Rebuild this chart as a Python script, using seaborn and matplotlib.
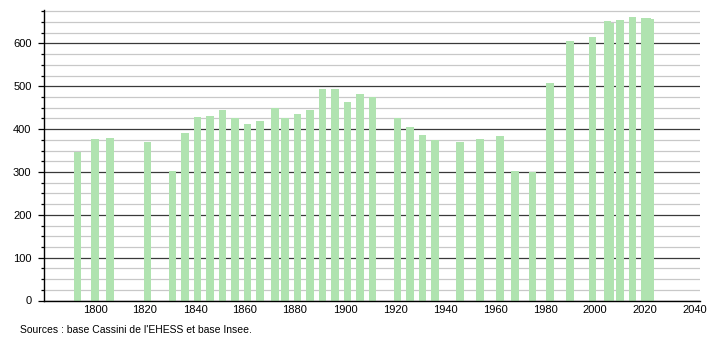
import matplotlib
matplotlib.use("Agg")
import matplotlib.pyplot as plt
from matplotlib.ticker import MultipleLocator
import seaborn as sns
import pandas as pd

years = [1793, 1800, 1806, 1821, 1831, 1836, 1841, 1846, 1851, 1856, 1861, 1866,
         1872, 1876, 1881, 1886, 1891, 1896, 1901, 1906, 1911, 1921, 1926, 1931,
         1936, 1946, 1954, 1962, 1968, 1975, 1982, 1990, 1999, 2005, 2006, 2010,
         2015, 2020, 2021, 2022]
population = [347, 376, 380, 370, 302, 391, 429, 431, 444, 426, 412, 419,
              450, 426, 435, 444, 493, 493, 463, 483, 475, 427, 405, 386,
              374, 370, 376, 384, 302, 299, 508, 605, 615, 652, 648, 655,
              661, 659, 659, 657]
x_ticks = [1800, 1820, 1840, 1860, 1880, 1900, 1920, 1940, 1960, 1980, 2000, 2020, 2040]
y_ticks = [0, 100, 200, 300, 400, 500, 600]
source_text = "Sources : base Cassini de l'EHESS et base Insee."

plt.rcParams['font.family'] = ['Liberation Sans', 'DejaVu Sans']

df = pd.DataFrame({"year": years, "population": population})

fig = plt.figure(figsize=(7.1, 3.4), dpi=100)
ax = fig.add_axes([44 / 710, 39.5 / 340, 656 / 710, 290.5 / 340])

sns.barplot(data=df, x="year", y="population", native_scale=True, width=3.05,
            color="#b0e3b0", saturation=1, errorbar=None, ax=ax, zorder=3,
            linewidth=0)

ax.set_xlim(1779.6, 2042)
ax.set_ylim(0, 678)
ax.set_xticks(x_ticks)
ax.set_xticklabels([str(t) for t in x_ticks])
ax.set_yticks(y_ticks)
ax.yaxis.set_minor_locator(MultipleLocator(25))

ax.grid(which='major', axis='y', color='#3a3a3a', linewidth=0.9, zorder=1)
ax.grid(which='minor', axis='y', color='#c8c8c8', linewidth=0.9, zorder=0)
ax.grid(which='major', axis='x', visible=False)
ax.set_axisbelow(True)

for s in ['top', 'right']:
    ax.spines[s].set_visible(False)
for s in ['left', 'bottom']:
    ax.spines[s].set_color('black')
    ax.spines[s].set_linewidth(1.0)
    ax.spines[s].set_zorder(5)

ax.tick_params(axis='y', which='major', length=4, width=0.9, pad=5, labelsize=8, color='black')
ax.tick_params(axis='y', which='minor', length=2, width=0.9, color='black')
ax.tick_params(axis='x', which='both', length=0, pad=3, labelsize=8)
ax.set_xlabel("")
ax.set_ylabel("")

fig.text(20 / 710, 1 - 330 / 340, source_text, fontsize=7.5, va='center', ha='left')

fig.savefig("out.png", dpi=100)
